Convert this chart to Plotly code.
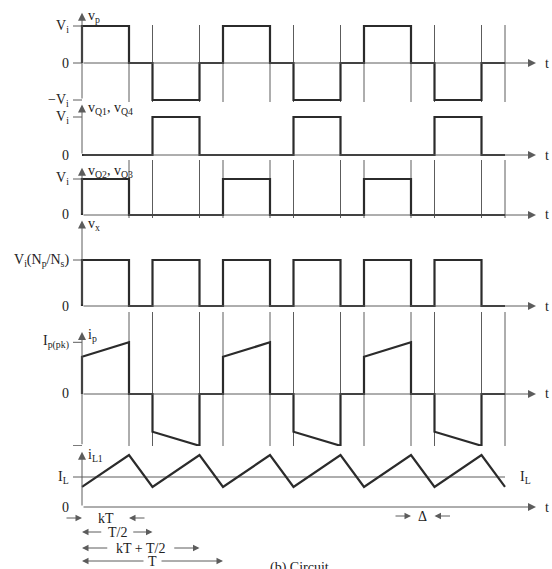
import plotly.graph_objects as go

W, H = 552, 569
FONT = "Liberation Serif"
INK = "#2b2b2b"
THIN = "#5c5c5c"

# ---- timing: switching instants in units of T (duty k = 1/3) ----
t_edges = [0, 1/3, 1/2, 5/6, 1, 4/3, 3/2, 11/6, 2, 7/3, 5/2, 17/6, 3]

# ---- piecewise-constant voltages on each interval between t_edges ----
vp_levels   = [1, 0, -1, 0, 1, 0, -1, 0, 1, 0, -1, 0]
vq14_levels = [0, 0, 1, 0, 0, 0, 1, 0, 0, 0, 1, 0]
vq23_levels = [1, 0, 0, 0, 1, 0, 0, 0, 1, 0, 0, 0]
vx_levels   = [1, 0, 1, 0, 1, 0, 1, 0, 1, 0, 1, 0]

# ---- primary current (per unit of Ip(pk)): value at start / end of each interval ----
ip_start = [0.72, 0, -0.73, 0, 0.72, 0, -0.73, 0, 0.72, 0, -0.73, 0]
ip_end   = [1.00, 0, -1.00, 0, 1.00, 0, -1.00, 0, 1.00, 0, -1.00, 0]

# ---- output inductor current (per unit of IL) at each switching instant ----
iL1_values = [0.67, 1.73, 0.67, 1.73, 0.67, 1.73, 0.67, 1.73, 0.67, 1.73, 0.67, 1.73, 0.67]

# ---- horizontal scale: pixel position of t = 0 and pixels per period ----
X0_PX, PX_PER_T = 82, 141


def t_at(px):
    return (px - X0_PX) / PX_PER_T


def paper_y(px):
    return 1 - px / H


def steps(levels):
    xs, ys = [t_edges[0]], [0]
    for i, lv in enumerate(levels):
        xs += [t_edges[i], t_edges[i + 1]]
        ys += [lv, lv]
    return xs, ys


def ramps(starts, ends):
    xs, ys = [t_edges[0]], [0]
    for i, (a, b) in enumerate(zip(starts, ends)):
        xs += [t_edges[i], t_edges[i + 1]]
        ys += [a, b]
    return xs, ys


# ---- panel layout: zero line pixel, pixels per unit, vertical span, axis extents ----
panels = [
    dict(wave=steps(vp_levels), zero=63, unit=37, span=(6, 104), tip=1.36, low=-1,
         name="v<sub>p</sub>",
         ticks=[(1, "V<sub>i</sub>", True), (0, "0", True), (-1, "−V<sub>i</sub>", True)]),
    dict(wave=steps(vq14_levels), zero=155, unit=38, span=(102, 160), tip=1.33, low=0,
         name="v<sub>Q1</sub>, v<sub>Q4</sub>",
         ticks=[(1, "V<sub>i</sub>", True), (0, "0", False)]),
    dict(wave=steps(vq23_levels), zero=215, unit=36, span=(164, 220), tip=1.31, low=0,
         name="v<sub>Q2</sub>, v<sub>Q3</sub>",
         ticks=[(1, "V<sub>i</sub>", True), (0, "0", False)]),
    dict(wave=steps(vx_levels), zero=306, unit=46, span=(218, 312), tip=1.86, low=0,
         name="v<sub>x</sub>",
         ticks=[(1, "V<sub>i</sub>(N<sub>p</sub>/N<sub>s</sub>)", True), (0, "0", False)]),
    dict(wave=ramps(ip_start, ip_end), zero=394, unit=51.7, span=(328, 451), tip=1.2, low=-1,
         name="i<sub>p</sub>",
         ticks=[(1, "I<sub>p(pk)</sub>", True), (0, "0", False), (-1, "", True)]),
    dict(wave=(t_edges, iL1_values), zero=507, unit=30, span=(446, 569), tip=1.84, low=0,
         name="i<sub>L1</sub>",
         ticks=[(1, "I<sub>L</sub>", True), (0, "0", False)], ref_line=1, ref_label="I<sub>L</sub>"),
]

# ---- dimension rows under the last panel: (start, end, label, arrow style, row pixel) ----
dims = [
    (t_edges[0], t_edges[1], "kT", "out", 518),
    (t_edges[0], t_edges[2], "T/2", "in", 532),
    (t_edges[0], t_edges[3], "kT + T/2", "in", 548),
    (t_edges[0], t_edges[4], "T", "in", 561),
    (t_edges[9], t_edges[10], "Δ", "out", 516),
]

fig = go.Figure()
annotations = []
shapes = []
font = dict(family=FONT, size=14, color="#222")
t_tip = t_at(536)
t_tick = t_at(73)

layout_axes = {}
for n, p in enumerate(panels, start=1):
    yname = "y" if n == 1 else f"y{n}"
    ykey = "yaxis" if n == 1 else f"yaxis{n}"
    top_px, bot_px = p["span"]
    layout_axes[ykey] = dict(
        domain=[paper_y(bot_px), paper_y(top_px)],
        range=[(p["zero"] - bot_px) / p["unit"], (p["zero"] - top_px) / p["unit"]],
        anchor="x", visible=False, fixedrange=True,
    )

    # tick marks left of the vertical axis
    for val, lab, has_tick in p["ticks"]:
        if has_tick:
            fig.add_trace(go.Scatter(x=[t_tick, 0], y=[val, val], yaxis=yname, mode="lines",
                                     line=dict(color=THIN, width=1), hoverinfo="skip"))
        if lab:
            annotations.append(dict(x=t_at(71), y=val, xref="x", yref=yname, text=lab,
                                    showarrow=False, xanchor="right", yanchor="middle", font=font))

    # horizontal reference line (IL level)
    if "ref_line" in p:
        fig.add_trace(go.Scatter(x=[0, t_edges[-1]], y=[p["ref_line"]] * 2, yaxis=yname,
                                 mode="lines", line=dict(color=THIN, width=1), hoverinfo="skip"))
        annotations.append(dict(x=t_at(518), y=p["ref_line"], xref="x", yref=yname,
                                text=p["ref_label"], showarrow=False, xanchor="left",
                                yanchor="middle", font=font))

    # time axis with arrow and "t"
    annotations.append(dict(x=t_tip, y=0, ax=0, ay=0, xref="x", yref=yname, axref="x", ayref=yname,
                            text="", showarrow=True, arrowhead=2, arrowsize=1.6, arrowwidth=1,
                            arrowcolor=THIN, standoff=0))
    annotations.append(dict(x=t_at(543), y=0, xref="x", yref=yname, text="t", showarrow=False,
                            xanchor="left", yanchor="middle", font=font))

    # vertical axis with arrow and signal name
    annotations.append(dict(x=0, y=p["tip"], ax=0, ay=p["low"], xref="x", yref=yname, axref="x",
                            ayref=yname, text="", showarrow=True, arrowhead=2, arrowsize=1.6,
                            arrowwidth=1, arrowcolor=THIN, standoff=0))
    annotations.append(dict(x=t_at(86), y=p["tip"], xref="x", yref=yname, text=p["name"],
                            showarrow=False, xanchor="left", yanchor="middle", yshift=-4, font=font))

    # waveform
    xs, ys = p["wave"]
    fig.add_trace(go.Scatter(x=xs, y=ys, yaxis=yname, mode="lines",
                             line=dict(color=INK, width=2.2), hoverinfo="skip"))

# ---- vertical guide lines at every switching instant ----
last_zero = panels[-1]["zero"]
for t in t_edges:
    rows = [d[4] for d in dims if abs(d[0] - t) < 1e-9 or abs(d[1] - t) < 1e-9]
    bottom = max(rows) + 8 if rows else last_zero
    top = last_zero if t == t_edges[0] else 25
    shapes.append(dict(type="line", xref="x", yref="paper", x0=t, x1=t,
                       y0=paper_y(min(bottom, H)), y1=paper_y(top),
                       line=dict(color=THIN, width=1), layer="below"))

# ---- dimension markers ----
for a, b, lab, style, row in dims:
    yy = paper_y(row)
    mid = (a + b) / 2
    annotations.append(dict(x=mid, y=yy, xref="x", yref="paper", text=lab, showarrow=False,
                            xanchor="center", yanchor="middle", font=font))
    arrow = dict(yref="paper", xref="x", text="", showarrow=True, arrowhead=2, arrowsize=1.3,
                 arrowwidth=1, arrowcolor=THIN, standoff=0, ay=0)
    if style == "out":
        annotations.append(dict(arrow, x=a, y=yy, ax=-17))
        annotations.append(dict(arrow, x=b, y=yy, ax=17))
    else:
        half = 3.5 * len(lab) + 4
        span_px = (b - a) * PX_PER_T
        annotations.append(dict(arrow, x=a, y=yy, ax=span_px / 2 - half))
        annotations.append(dict(arrow, x=b, y=yy, ax=-(span_px / 2 - half)))

# caption running off the bottom edge
annotations.append(dict(x=t_at(268), y=paper_y(558), xref="x", yref="paper", text="(b) Circuit",
                        showarrow=False, xanchor="left", yanchor="top", font=font))

fig.update_layout(
    width=W, height=H, margin=dict(l=0, r=0, t=0, b=0),
    paper_bgcolor="white", plot_bgcolor="white", showlegend=False,
    xaxis=dict(range=[t_at(0), t_at(W)], domain=[0, 1], visible=False, fixedrange=True),
    annotations=annotations, shapes=shapes,
    **layout_axes,
)
for tr in fig.data:
    tr.update(cliponaxis=False)

fig.write_html("out.html")
